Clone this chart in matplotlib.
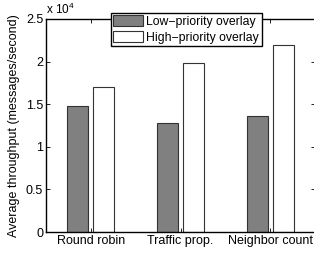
import numpy as np
import matplotlib
matplotlib.use("Agg")
import matplotlib.pyplot as plt

plt.rcParams["font.family"] = ["Liberation Sans", "DejaVu Sans"]
plt.rcParams["mathtext.fontset"] = "custom"
plt.rcParams["mathtext.rm"] = "Liberation Sans"

categories = ["Round robin", "Traffic prop.", "Neighbor count"]
low_priority = [1.48, 1.28, 1.36]   # x 10^4 messages/second
high_priority = [1.70, 1.98, 2.19]
series_names = ["Low\u2212priority overlay", "High\u2212priority overlay"]

fig = plt.figure(figsize=(3.14, 2.54), dpi=100)
ax = fig.add_axes([0.1465, 0.0866, 0.857, 0.8386])

x = np.arange(1, len(categories) + 1)
w = 0.235
ax.bar(x - 0.145, low_priority, w, color="#808080", edgecolor="#333333", linewidth=0.8, label=series_names[0])
ax.bar(x + 0.145, high_priority, w, color="white", edgecolor="#333333", linewidth=0.8, label=series_names[1])

ax.set_xlim(0.5, 3.5)
ax.set_ylim(0, 2.5)
ax.set_xticks(x)
ax.set_xticklabels(categories, fontsize=9)
ax.set_yticks([0, 0.5, 1, 1.5, 2, 2.5])
ax.set_yticklabels(["0", "0.5", "1", "1.5", "2", "2.5"], fontsize=9)
ax.tick_params(direction="in", length=3, width=0.6, top=True, right=True, pad=2)
for s in ax.spines.values():
    s.set_linewidth(1.0)
ax.set_ylabel("Average throughput (messages/second)", fontsize=9, labelpad=4)
fig.text(0.146, 1 - 14 / 254, r"x 10$^{\rm 4}$", fontsize=8.5, ha="left", va="baseline")

leg = ax.legend(loc="upper left", bbox_to_anchor=(111 / 314, 1 - 13 / 254), bbox_transform=fig.transFigure,
                fontsize=8.8, fancybox=False, edgecolor="black", framealpha=1,
                handlelength=2.4, handleheight=1.0, handletextpad=0.3, labelspacing=0.25,
                borderpad=0.2, borderaxespad=0)
leg.get_frame().set_linewidth(1.0)

fig.savefig("out.png", dpi=100)
